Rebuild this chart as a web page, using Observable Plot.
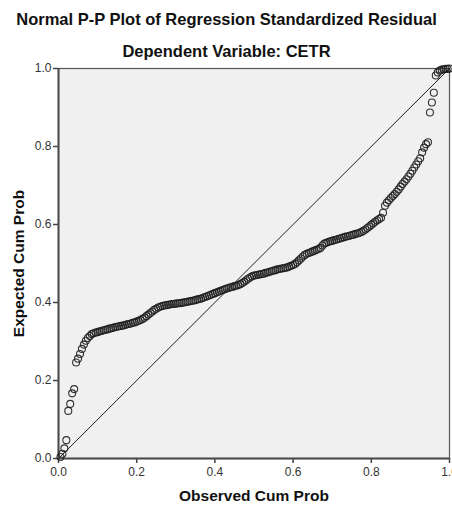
<!DOCTYPE html>
<html>
<head>
<meta charset="utf-8">
<script src="https://cdn.jsdelivr.net/npm/d3@7"></script>
<script src="https://cdn.jsdelivr.net/npm/@observablehq/plot@0.6"></script>
<style>
  html, body { margin: 0; padding: 0; background: #fff; }
  #chart { width: 452px; height: 505px; overflow: hidden; }
  #chart svg { display: block; }
</style>
</head>
<body>
<div id="chart"></div>
<script>
const titleText = "Normal P-P Plot of Regression Standardized Residual";
const subtitleText = "Dependent Variable: CETR";
const xLabel = "Observed Cum Prob";
const yLabel = "Expected Cum Prob";
const tickValues = [0, 0.2, 0.4, 0.6, 0.8, 1.0];
const refLine = [0, 1];

const observed = [
  0.005, 0.010, 0.015, 0.020, 0.025, 0.030, 0.035, 0.040, 0.045, 0.050,
  0.055, 0.060, 0.065, 0.070, 0.075, 0.080, 0.085, 0.090, 0.095, 0.100,
  0.105, 0.110, 0.115, 0.120, 0.125, 0.130, 0.135, 0.140, 0.145, 0.150,
  0.155, 0.160, 0.165, 0.170, 0.175, 0.180, 0.185, 0.190, 0.195, 0.200,
  0.205, 0.210, 0.215, 0.220, 0.225, 0.230, 0.235, 0.240, 0.245, 0.250,
  0.255, 0.260, 0.265, 0.270, 0.275, 0.280, 0.285, 0.290, 0.295, 0.300,
  0.305, 0.310, 0.315, 0.320, 0.325, 0.330, 0.335, 0.340, 0.345, 0.350,
  0.355, 0.360, 0.365, 0.370, 0.375, 0.380, 0.385, 0.390, 0.395, 0.400,
  0.405, 0.410, 0.415, 0.420, 0.425, 0.430, 0.435, 0.440, 0.445, 0.450,
  0.455, 0.460, 0.465, 0.470, 0.475, 0.480, 0.485, 0.490, 0.495, 0.500,
  0.505, 0.510, 0.515, 0.520, 0.525, 0.530, 0.535, 0.540, 0.545, 0.550,
  0.555, 0.560, 0.565, 0.570, 0.575, 0.580, 0.585, 0.590, 0.595, 0.600,
  0.605, 0.610, 0.615, 0.620, 0.625, 0.630, 0.635, 0.640, 0.645, 0.650,
  0.655, 0.660, 0.665, 0.670, 0.675, 0.680, 0.685, 0.690, 0.695, 0.700,
  0.705, 0.710, 0.715, 0.720, 0.725, 0.730, 0.735, 0.740, 0.745, 0.750,
  0.755, 0.760, 0.765, 0.770, 0.775, 0.780, 0.785, 0.790, 0.795, 0.800,
  0.805, 0.810, 0.815, 0.820, 0.825, 0.830, 0.835, 0.840, 0.845, 0.850,
  0.855, 0.860, 0.865, 0.870, 0.875, 0.880, 0.885, 0.890, 0.895, 0.900,
  0.905, 0.910, 0.915, 0.920, 0.925, 0.930, 0.935, 0.940, 0.945, 0.950,
  0.955, 0.960, 0.965, 0.970, 0.975, 0.980, 0.985, 0.990, 0.995, 1.000
];

const expected = [
  0.004, 0.012, 0.026, 0.047, 0.122, 0.140, 0.167, 0.178, 0.246, 0.256,
  0.268, 0.281, 0.292, 0.302, 0.309, 0.314, 0.319, 0.321, 0.323, 0.324,
  0.326, 0.327, 0.329, 0.330, 0.331, 0.333, 0.334, 0.335, 0.337, 0.338,
  0.339, 0.340, 0.341, 0.342, 0.344, 0.345, 0.346, 0.348, 0.349, 0.351,
  0.353, 0.355, 0.358, 0.361, 0.365, 0.369, 0.373, 0.377, 0.381, 0.384,
  0.387, 0.389, 0.391, 0.392, 0.393, 0.394, 0.395, 0.396, 0.396, 0.397,
  0.398, 0.398, 0.399, 0.400, 0.401, 0.402, 0.403, 0.404, 0.405, 0.406,
  0.408, 0.409, 0.410, 0.412, 0.414, 0.416, 0.418, 0.420, 0.422, 0.424,
  0.426, 0.428, 0.430, 0.432, 0.434, 0.436, 0.437, 0.439, 0.440, 0.442,
  0.443, 0.445, 0.447, 0.450, 0.453, 0.457, 0.461, 0.464, 0.467, 0.469,
  0.470, 0.471, 0.472, 0.473, 0.474, 0.476, 0.477, 0.479, 0.480, 0.482,
  0.483, 0.485, 0.486, 0.487, 0.488, 0.489, 0.490, 0.492, 0.494, 0.496,
  0.499, 0.503, 0.508, 0.513, 0.518, 0.522, 0.525, 0.527, 0.529, 0.531,
  0.533, 0.535, 0.537, 0.540, 0.546, 0.551, 0.553, 0.555, 0.557, 0.558,
  0.560, 0.561, 0.563, 0.564, 0.566, 0.567, 0.569, 0.570, 0.571, 0.573,
  0.574, 0.576, 0.577, 0.579, 0.581, 0.584, 0.587, 0.591, 0.595, 0.599,
  0.603, 0.607, 0.611, 0.614, 0.617, 0.630, 0.648, 0.656, 0.662, 0.668,
  0.673, 0.678, 0.684, 0.690, 0.697, 0.704, 0.710, 0.716, 0.723, 0.730,
  0.738, 0.746, 0.754, 0.762, 0.770, 0.785, 0.797, 0.806, 0.811, 0.887,
  0.913, 0.938, 0.982, 0.990, 0.995, 0.997, 0.998, 0.999, 0.999, 1.000
];

const points = observed.map((x, i) => ({x, y: expected[i]}));
const fmt = d3.format(".1f");
const FONT = "'Liberation Sans', Arial, sans-serif";

const chart = Plot.plot({
  width: 452,
  height: 505,
  marginLeft: 58,
  marginRight: 3,
  marginTop: 68,
  marginBottom: 47,
  style: {fontFamily: FONT, background: "#ffffff", overflow: "visible"},
  x: {domain: [0, 1], ticks: tickValues, tickFormat: fmt, label: null, tickSize: 5, tickPadding: 4},
  y: {domain: [0, 1], ticks: tickValues, tickFormat: fmt, label: null, tickSize: 5, tickPadding: 2},
  marks: [
    Plot.frame({fill: "#f0f0f0", stroke: "#555", strokeWidth: 1.2}),
    Plot.axisX({ticks: tickValues, tickFormat: fmt, tickSize: 5, tickPadding: 4, fontSize: 12, color: "#333", stroke: "#444", strokeWidth: 1.5, label: null}),
    Plot.axisY({ticks: tickValues, tickFormat: fmt, tickSize: 5, tickPadding: 2, fontSize: 12, color: "#333", stroke: "#444", strokeWidth: 1.5, label: null}),
    Plot.ruleX([0], {stroke: "#4a4a4a", strokeWidth: 2}),
    Plot.ruleY([0], {stroke: "#4a4a4a", strokeWidth: 2}),
    Plot.line(refLine, {x: d => d, y: d => d, stroke: "#222", strokeWidth: 1}),
    Plot.dot(points, {x: "x", y: "y", r: 3.5, stroke: "#1e1e1e", strokeWidth: 1.1, fill: "none", strokeOpacity: 0.9}),
    Plot.text([titleText], {frameAnchor: "top", dx: -27.5, dy: -44, fontSize: 16.5, fontWeight: "bold", fill: "#111", textAnchor: "middle", lineAnchor: "bottom"}),
    Plot.text([subtitleText], {frameAnchor: "top", dx: -27.5, dy: -12, fontSize: 16.5, fontWeight: "bold", fill: "#111", textAnchor: "middle", lineAnchor: "bottom"}),
    Plot.text([xLabel], {frameAnchor: "bottom", dy: 42, fontSize: 15.5, fontWeight: "bold", fill: "#111", lineAnchor: "bottom"}),
    Plot.text([yLabel], {frameAnchor: "left", dx: -39, rotate: -90, fontSize: 15.5, fontWeight: "bold", fill: "#111", textAnchor: "middle"})
  ]
});

document.getElementById("chart").appendChild(chart);
</script>
</body>
</html>
